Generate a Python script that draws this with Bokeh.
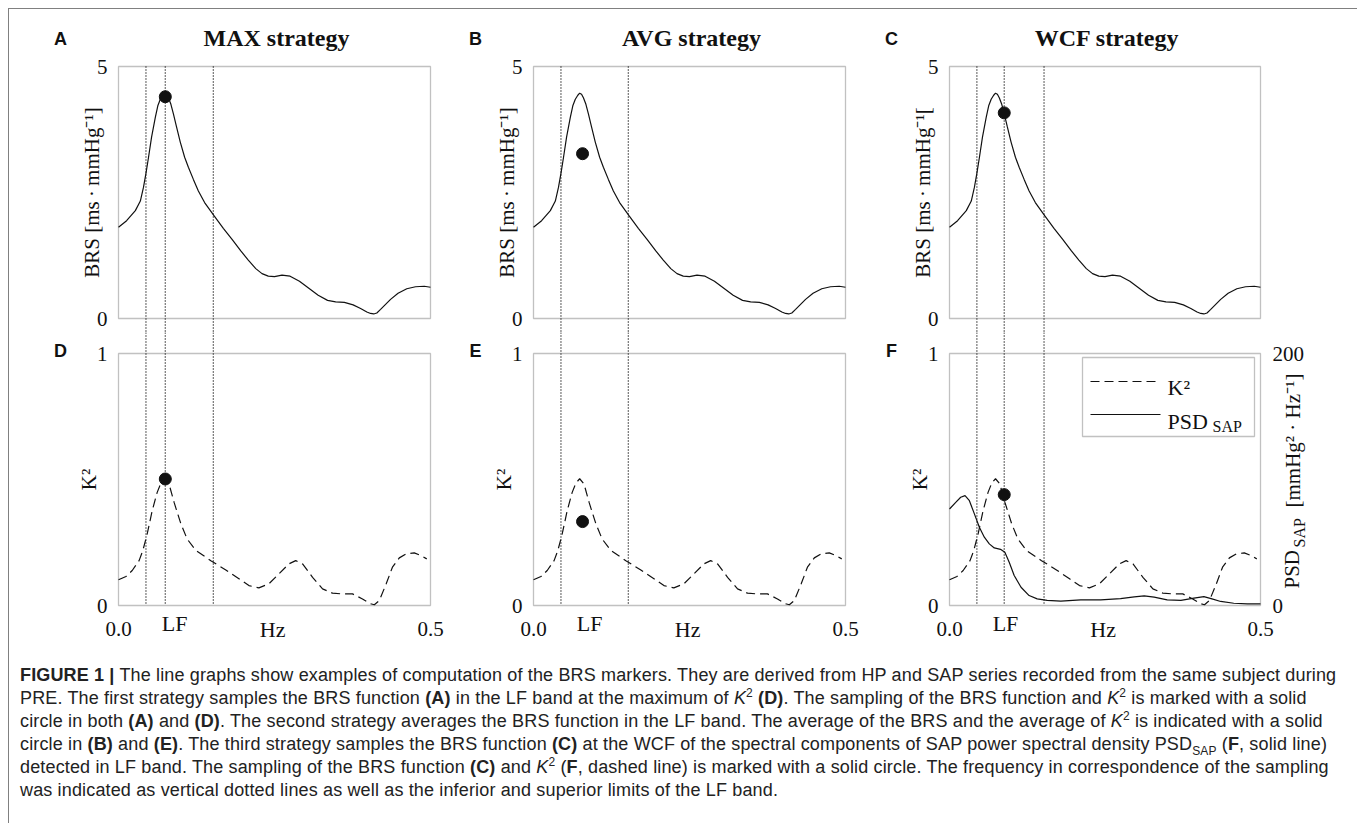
import math
from bokeh.plotting import figure
from bokeh.models import Range1d, Label, BoxAnnotation, Arrow, Div
from bokeh.layouts import column, row
from bokeh.embed import file_html
from bokeh.resources import INLINE

# ---------------- data ----------------
freq_brs = [0.000, 0.013, 0.027, 0.035, 0.040, 0.044, 0.048, 0.053, 0.059, 0.063,
            0.067, 0.071, 0.074, 0.077, 0.080, 0.084, 0.088, 0.093, 0.099, 0.106,
            0.112, 0.120, 0.128, 0.138, 0.153, 0.168, 0.182, 0.196, 0.208, 0.220,
            0.230, 0.240, 0.250, 0.262, 0.275, 0.290, 0.305, 0.320, 0.335, 0.348,
            0.362, 0.376, 0.388, 0.398, 0.404, 0.409, 0.414, 0.420, 0.428, 0.436,
            0.448, 0.462, 0.476, 0.490, 0.500]
brs = [1.81, 1.94, 2.14, 2.33, 2.60, 2.88, 3.19, 3.60, 3.99, 4.22,
       4.35, 4.43, 4.47, 4.45, 4.38, 4.25, 4.06, 3.80, 3.50, 3.20,
       3.00, 2.76, 2.53, 2.30, 2.04, 1.79, 1.57, 1.34, 1.16, 0.99,
       0.89, 0.84, 0.83, 0.86, 0.84, 0.74, 0.60, 0.46, 0.36, 0.33,
       0.32, 0.27, 0.20, 0.13, 0.10, 0.09, 0.11, 0.18, 0.28, 0.38,
       0.50, 0.59, 0.63, 0.64, 0.62]

freq_k2 = [0.000, 0.012, 0.022, 0.033, 0.039, 0.046, 0.054, 0.062, 0.068, 0.074,
           0.081, 0.089, 0.100, 0.110, 0.124, 0.148, 0.172, 0.193, 0.209, 0.225,
           0.241, 0.257, 0.273, 0.284, 0.295, 0.311, 0.327, 0.343, 0.359, 0.375,
           0.391, 0.404, 0.410, 0.418, 0.429, 0.439, 0.450, 0.461, 0.474, 0.485,
           0.494]
k2 = [0.102, 0.115, 0.139, 0.178, 0.218, 0.284, 0.376, 0.449, 0.486, 0.503,
      0.482, 0.410, 0.324, 0.264, 0.218, 0.178, 0.141, 0.106, 0.079, 0.070,
      0.086, 0.125, 0.165, 0.178, 0.165, 0.112, 0.066, 0.049, 0.046, 0.046,
      0.026, 0.007, 0.003, 0.020, 0.086, 0.152, 0.189, 0.205, 0.209, 0.198,
      0.185]

freq_psd = [0.000, 0.010, 0.018, 0.025, 0.032, 0.040, 0.048, 0.056, 0.064, 0.072,
            0.082, 0.089, 0.096, 0.104, 0.115, 0.128, 0.141, 0.157, 0.179, 0.211,
            0.243, 0.275, 0.297, 0.313, 0.329, 0.350, 0.372, 0.393, 0.409, 0.422,
            0.436, 0.457, 0.479, 0.500]
psd = [76.6, 81.9, 85.9, 87.2, 83.2, 72.7, 62.1, 54.2, 48.9, 45.7,
       44.6, 42.3, 34.3, 23.8, 14.5, 7.9, 5.3, 4.0, 3.4, 4.5,
       4.5, 5.5, 6.9, 7.7, 6.6, 4.5, 4.0, 5.8, 7.1, 5.3,
       3.2, 1.8, 1.3, 1.3]

lf_band = [0.044, 0.152]
sample_freq = [[0.075], [], [0.088]]
brs_point_f = [0.075, 0.0786, 0.088]
brs_point = [4.40, 3.27, 4.08]
k2_point_f = [0.075, 0.0786, 0.088]
k2_point = [0.502, 0.333, 0.44]

titles = ["MAX strategy", "AVG strategy", "WCF strategy"]
top_letters = ["A", "B", "C"]
bottom_letters = ["D", "E", "F"]
brs_labels = ["BRS [ms\u2009\u00b7\u2009mmHg\u207b\u00b9]",
              "BRS [ms\u2009\u00b7\u2009mmHg\u207b\u00b9]",
              "BRS [ms\u2009\u00b7\u2009mmHg\u207b\u00b9["]
k2_label = "K\u00b2"
x_ticks = [0.0, 0.5]
x_extra_labels = ["LF", "Hz"]
x_extra_pos = [0.09, 0.247]
brs_ticks = [0, 5]
k2_ticks = [0, 1]
psd_ticks = [0, 200]
legend_labels = ["K\u00b2", "PSD", "SAP"]
psd_axis_parts = ["PSD", "SAP", "[mmHg\u00b2 \u00b7 Hz\u207b\u00b9]"]

# ---------------- styling / layout ----------------
SERIF = "Liberation Serif"
SANS = "Liberation Sans"
INK = "#111111"
FRAME = "#333333"
col_w = [450, 418, 478]        # canvas width of each column
pan_l = [109, 74, 72]          # panel left edge inside canvas (px)
pan_w = [312, 312, 311]        # panel width (px)
pan_h = 252                    # panel height (px)
up_h, up_below = 323, 14       # upper canvas height, px below panel
lo_h, lo_below = 318, 45       # lower canvas height, px below panel


def make_fig(i, h, below, ymax):
    sx = 0.5 / pan_w[i]
    sy = ymax / pan_h
    x0 = -pan_l[i] * sx
    y0 = -below * sy
    p = figure(width=col_w[i], height=h, min_border=0,
               x_range=Range1d(x0, x0 + col_w[i] * sx),
               y_range=Range1d(y0, y0 + h * sy),
               output_backend="svg", toolbar_location=None)
    p.axis.visible = False
    p.grid.visible = False
    p.outline_line_color = None
    p.background_fill_color = "white"
    p.border_fill_color = "white"
    p.add_layout(BoxAnnotation(left=0, right=0.5, bottom=0, top=ymax,
                               fill_color=None, line_color=FRAME, line_width=1.3))
    return p


def txt(p, x, y, text, size="21px", font=SERIF, style="normal", align="center",
        baseline="middle", angle=0, xu="screen", yu="screen"):
    p.add_layout(Label(x=x, y=y, x_units=xu, y_units=yu, text=text,
                       text_font=font, text_font_size=size, text_font_style=style,
                       text_align=align, text_baseline=baseline, angle=angle,
                       text_color=INK))


def dotted(p, freqs, y_from, y_to):
    n = len(freqs)
    p.segment(x0=freqs, y0=[y_from] * n, x1=freqs, y1=[y_to] * n,
              line_dash="1 2", line_color="#000000", line_width=1.3)


tops, bots = [], []
for i in range(3):
    L, W = pan_l[i], pan_w[i]
    # ---- upper panel: BRS function ----
    p = make_fig(i, up_h, up_below, brs_ticks[1])
    dotted(p, lf_band + sample_freq[i], brs_ticks[1], p.y_range.start)
    p.line(freq_brs, brs, line_color=INK, line_width=1.2)
    p.scatter([brs_point_f[i]], [brs_point[i]], size=12, color=INK)
    for t in brs_ticks:
        txt(p, L - 11, t, str(t), align="right", yu="data")
    txt(p, L + W / 2 + 2, up_h - 28, titles[i], size="24px", style="bold")
    txt(p, L - 58, up_h - 29, top_letters[i], size="18px", font=SANS, style="bold")
    txt(p, L - 27, up_below + pan_h / 2, brs_labels[i], size="21px", angle=math.pi / 2)
    tops.append(p)

    # ---- lower panel: K^2 ----
    q = make_fig(i, lo_h, lo_below, k2_ticks[1])
    dotted(q, lf_band + sample_freq[i], q.y_range.end, 0)
    q.line(freq_k2, k2, line_color=INK, line_width=1.2, line_dash="9 5")
    if i == 2:
        s = psd_ticks[1] / k2_ticks[1]
        q.extra_y_ranges = {"psd": Range1d(q.y_range.start * s, q.y_range.end * s)}
        q.line(freq_psd, psd, y_range_name="psd", line_color=INK, line_width=1.2)
        for t in psd_ticks:
            txt(q, L + W + 12, lo_below + pan_h * t / psd_ticks[1], str(t), align="left")
        # legend
        q.add_layout(BoxAnnotation(left=L + 133, right=L + 305,
                                   bottom=lo_below + 169, top=lo_below + 248,
                                   left_units="screen", right_units="screen",
                                   bottom_units="screen", top_units="screen",
                                   fill_color="white", fill_alpha=1.0,
                                   line_color=FRAME, line_width=1.3))
        q.add_layout(Arrow(x_start=L + 141, y_start=lo_below + 224,
                           x_end=L + 211, y_end=lo_below + 224,
                           start_units="screen", end_units="screen", end=None,
                           line_color=INK, line_width=1.2, line_dash="9 5"))
        q.add_layout(Arrow(x_start=L + 141, y_start=lo_below + 191,
                           x_end=L + 211, y_end=lo_below + 191,
                           start_units="screen", end_units="screen", end=None,
                           line_color=INK, line_width=1.2))
        txt(q, L + 218, lo_below + 218, legend_labels[0], size="22px", align="left", baseline="alphabetic")
        txt(q, L + 218, lo_below + 184, legend_labels[1], size="22px", align="left", baseline="alphabetic")
        txt(q, L + 263, lo_below + 179, legend_labels[2], size="16px", align="left", baseline="alphabetic")
        # right axis title: PSD with subscript SAP
        txt(q, L + W + 31, lo_below + 17, psd_axis_parts[0], size="21px", align="left", angle=math.pi / 2)
        txt(q, L + W + 39, lo_below + 58, psd_axis_parts[1], size="16px", align="left", angle=math.pi / 2)
        txt(q, L + W + 32, lo_below + 98, psd_axis_parts[2], size="21px", align="left", angle=math.pi / 2)
    q.scatter([k2_point_f[i]], [k2_point[i]], size=12, color=INK)
    for t in k2_ticks:
        txt(q, L - 11, t, str(t), align="right", yu="data")
    for t in x_ticks:
        txt(q, t, lo_below - 23, f"{t:.1f}", xu="data")
    txt(q, x_extra_pos[0], lo_below - 18, x_extra_labels[0], size="22px", xu="data")
    txt(q, x_extra_pos[1], lo_below - 24, x_extra_labels[1], size="22px", xu="data")
    txt(q, L - 58, lo_below + pan_h + 3, bottom_letters[i], size="18px", font=SANS, style="bold")
    txt(q, L - 30, lo_below + pan_h / 2, k2_label, size="21px", angle=math.pi / 2)
    bots.append(q)

SUP = '<sup style="line-height:0;font-size:12px">2</sup>'
caption_lines = [
    "<b>FIGURE 1 |</b> The line graphs show examples of computation of the BRS markers. They are derived from HP and SAP series recorded from the same subject during",
    f"PRE. The first strategy samples the BRS function <b>(A)</b> in the LF band at the maximum of <i>K</i>{SUP} <b>(D)</b>. The sampling of the BRS function and <i>K</i>{SUP} is marked with a solid",
    f"circle in both <b>(A)</b> and <b>(D)</b>. The second strategy averages the BRS function in the LF band. The average of the BRS and the average of <i>K</i>{SUP} is indicated with a solid",
    'circle in <b>(B)</b> and <b>(E)</b>. The third strategy samples the BRS function <b>(C)</b> at the WCF of the spectral components of SAP power spectral density PSD<sub style="line-height:0;font-size:12px">SAP</sub> (<b>F</b>, solid line)',
    f"detected in LF band. The sampling of the BRS function <b>(C)</b> and <i>K</i>{SUP} (<b>F</b>, dashed line) is marked with a solid circle. The frequency in correspondence of the sampling",
    "was indicated as vertical dotted lines as well as the inferior and superior limits of the LF band.",
]
caption_html = ('<div style="font-family:\'Liberation Sans\',Arial,sans-serif;font-size:18px;'
                'letter-spacing:0.15px;line-height:23px;color:#222;white-space:nowrap;'
                'padding:9px 0 0 6px;">'
                + "<br>".join(caption_lines) + "</div>")
caption = Div(text=caption_html, width=1346, height=163)

layout = column(row(*tops), row(*bots), caption,
                styles={"margin-left": "8px", "margin-top": "8px",
                        "border-left": "1px solid #808080",
                        "border-top": "1px solid #808080",
                        "border-right": "1px solid #808080"})

open("out.html", "w").write(file_html(layout, INLINE))
